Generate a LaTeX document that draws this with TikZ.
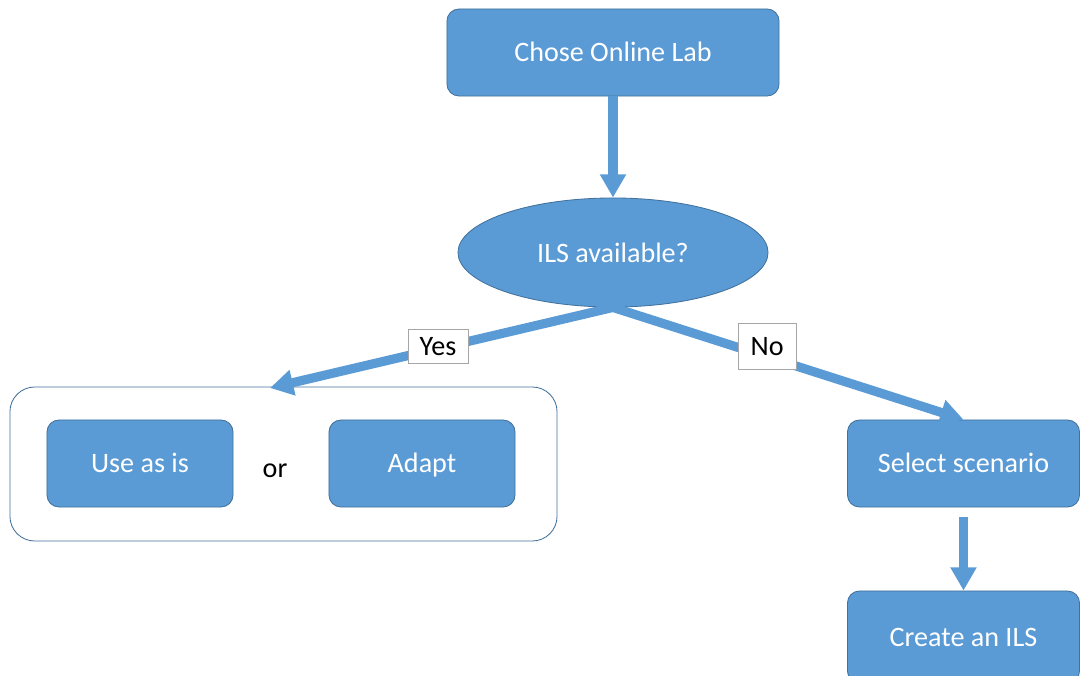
\documentclass[tikz,border=0pt]{standalone}
\usepackage{fontspec}
\setmainfont{Carlito}
\usetikzlibrary{shapes.geometric,arrows.meta}

\definecolor{boxblue}{HTML}{5B9BD5}
\definecolor{boxedge}{HTML}{41719C}

\begin{document}
\begin{tikzpicture}[x=0.025cm, y=-0.025cm,
    block/.style={rectangle, rounded corners=0.3cm, draw=boxedge, line width=0.6pt, fill=boxblue, text=white, inner sep=0pt, text height=16pt, text depth=3pt, font=\fontsize{20}{24}\selectfont},
    flow/.style={-{Triangle[width=0.62cm, length=0.58cm]}, draw=boxblue, line width=6.5pt},
    answer/.style={rectangle, draw=black!35, line width=0.5pt, fill=white, inner sep=0pt, font=\fontsize{20}{24}\selectfont}]

    \clip (0,0) rectangle (1081,676);

    % Nodes
    \node[block, minimum width=8.3cm, minimum height=2.175cm] (ChoseLab) at (613,52.5) {Chose Online Lab};
    \node[ellipse, draw=boxedge, line width=0.6pt, fill=boxblue, text=white, inner sep=0pt, minimum width=7.75cm, minimum height=2.725cm, font=\fontsize{20}{24}\selectfont] (ILS) at (613,252.5) {ILS available?};

    \node[rectangle, rounded corners=0.62cm, draw=boxedge, line width=0.6pt, fill=white, minimum width=13.675cm, minimum height=3.85cm] (Choice) at (283.5,464) {};
    \node[block, minimum width=4.65cm, minimum height=2.175cm] (UseAsIs) at (140,463.5) {Use as is};
    \node[font=\fontsize{20}{24}\selectfont] (Or) at (275,471) {or};
    \node[block, minimum width=4.65cm, minimum height=2.175cm] (Adapt) at (422,463.5) {Adapt};
    \coordinate (YesEnd) at (270,388);

    \node[block, minimum width=5.8cm, minimum height=2.175cm] (Scenario) at (963.5,463.5) {Select scenario};
    \node[block, minimum width=5.8cm, minimum height=2.3cm] (CreateILS) at (963.5,637) {Create an ILS};

    % Edges
    \draw[flow] (ChoseLab) -- (ILS);
    \draw[flow] (ILS.south) -- (YesEnd) node[answer, pos=0.51, minimum width=1.5cm, minimum height=0.85cm, yshift=0.05cm] {Yes};
    \draw[flow] (ILS.south) -- (Scenario.north) node[answer, pos=0.44, minimum width=1.45cm, minimum height=1.15cm, yshift=0.25cm] {No};
    \draw[flow, shorten <=0.25cm] (Scenario) -- (CreateILS);
\end{tikzpicture}
\end{document}
